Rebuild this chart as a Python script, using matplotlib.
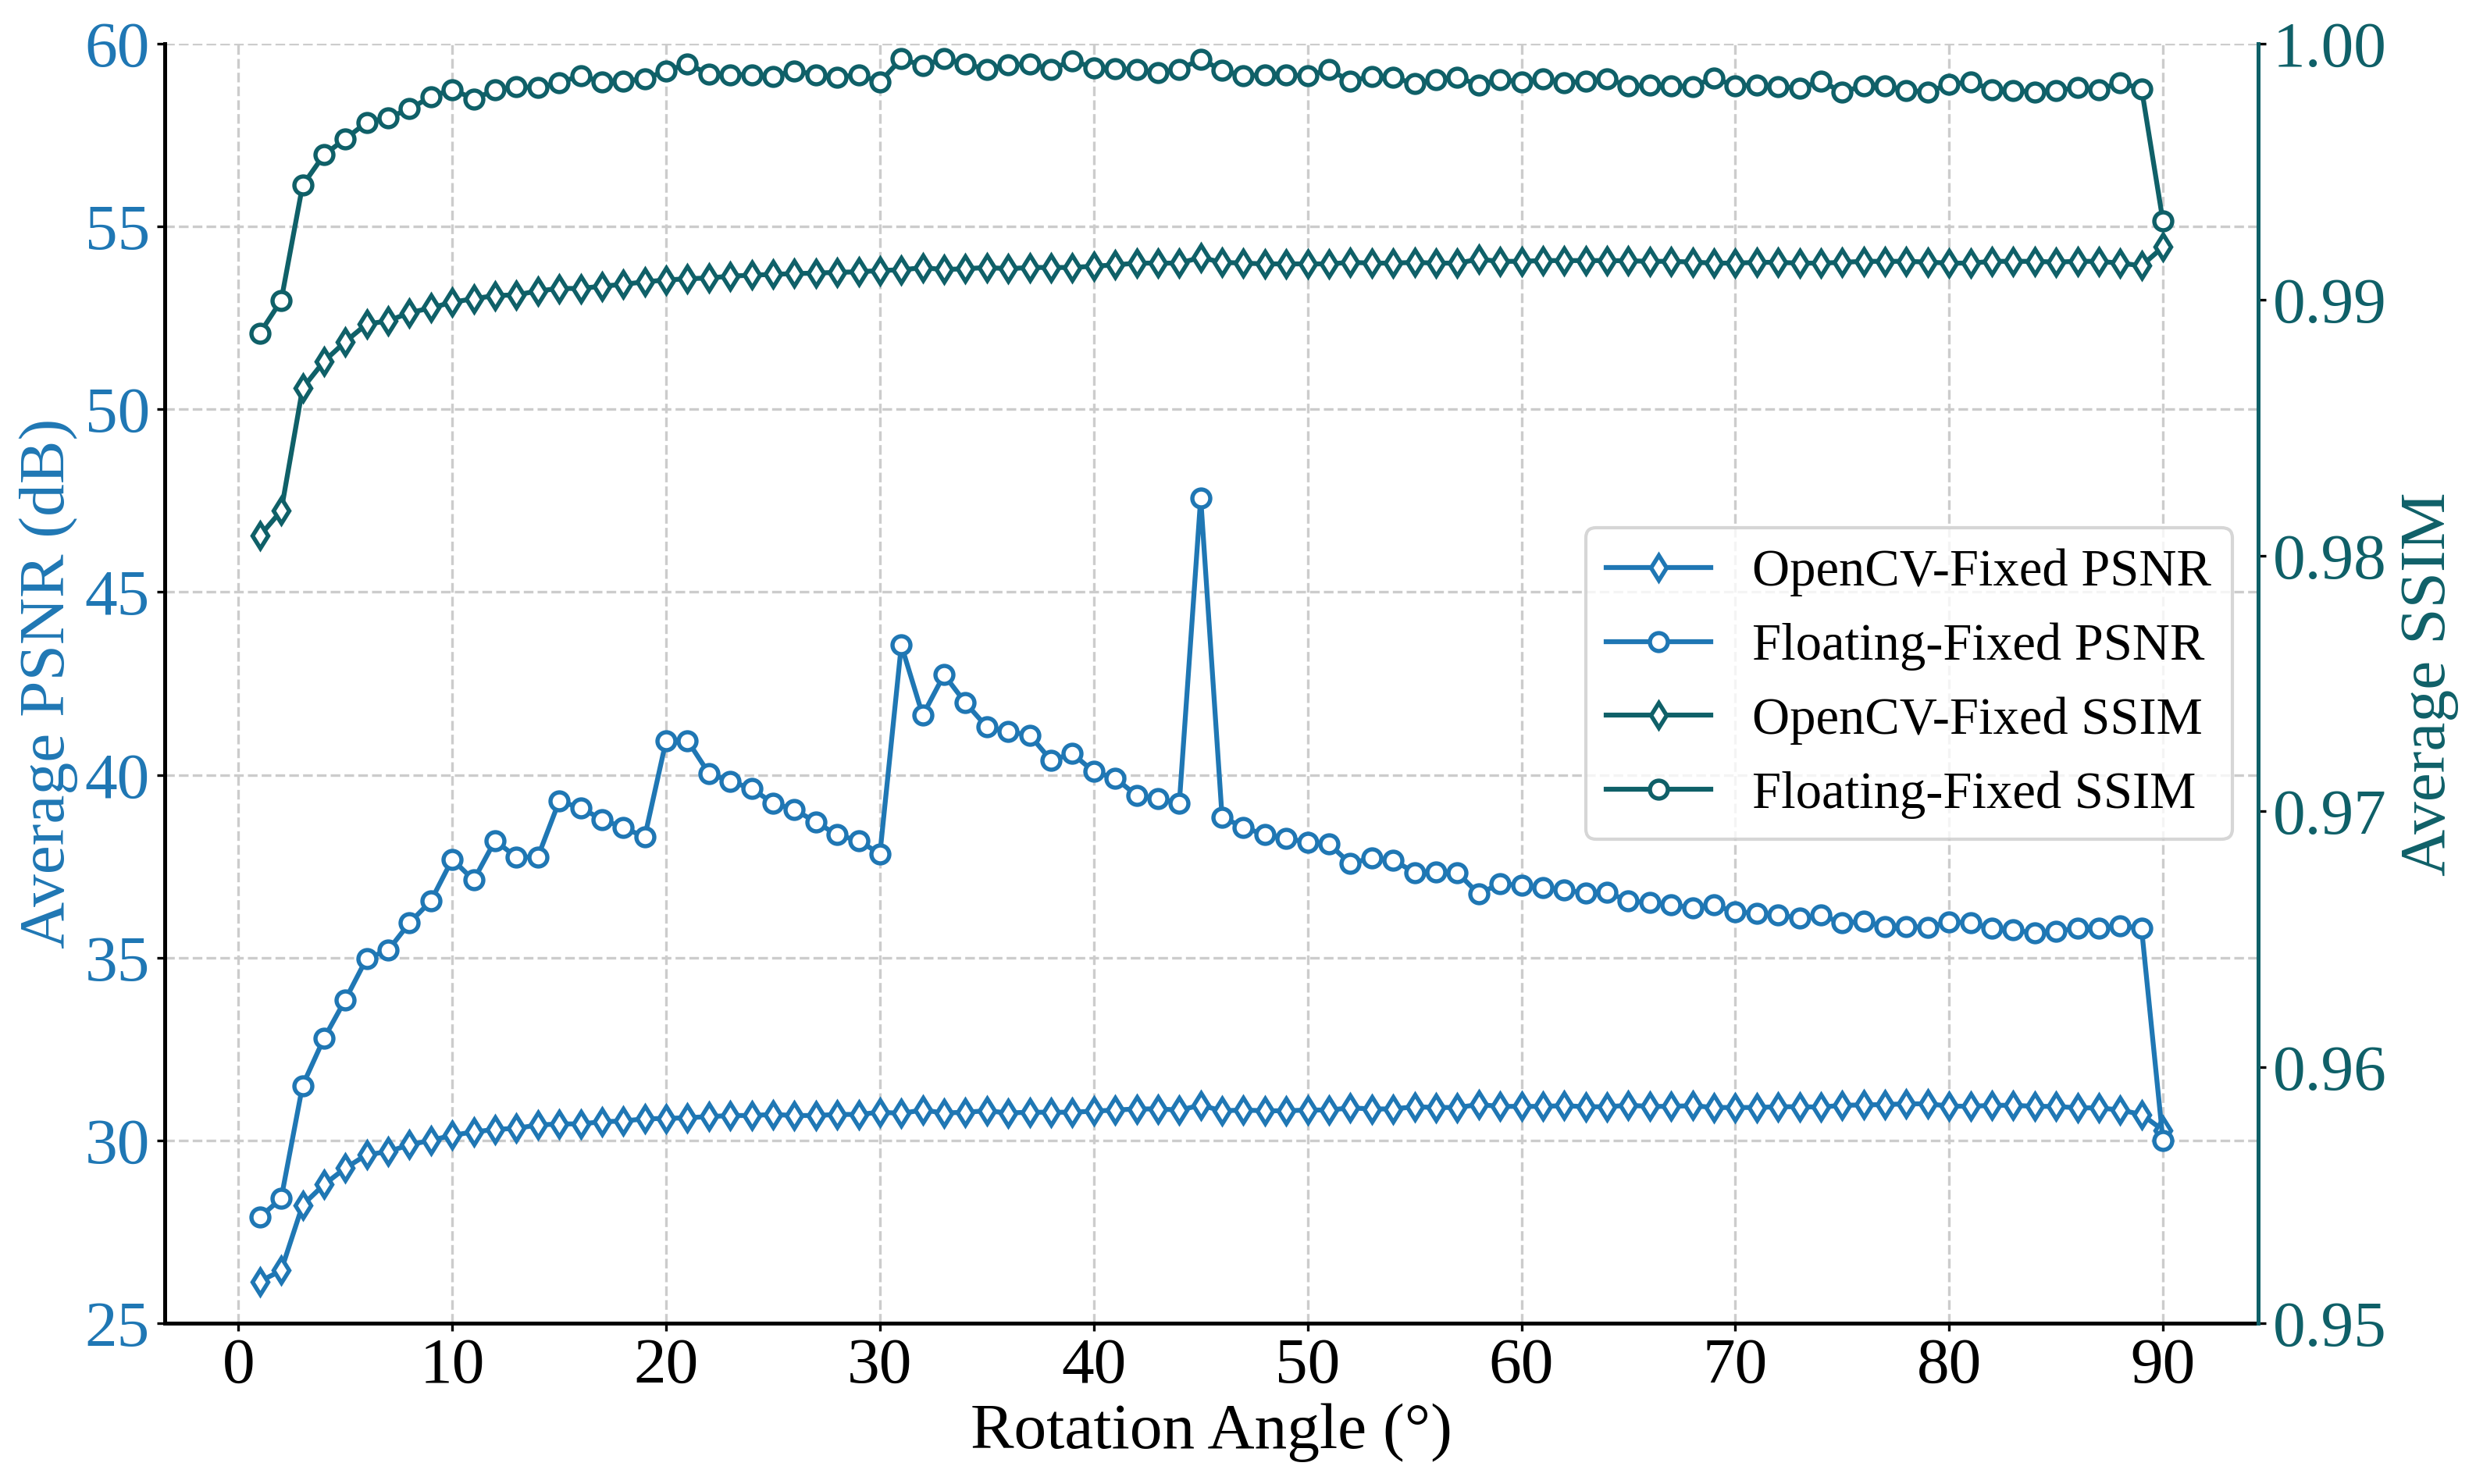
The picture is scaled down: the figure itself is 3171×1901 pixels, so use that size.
import numpy as np
import matplotlib
matplotlib.use('Agg')
import matplotlib.pyplot as plt

plt.rcParams['font.family'] = ['Liberation Serif', 'DejaVu Serif']

angles = np.arange(1, 91)

#PSNR values (dB)
opencv_psnr = [26.14, 26.44, 28.23, 28.79, 29.24, 29.61, 29.69, 29.88, 30.00, 30.14,
               30.23, 30.30, 30.33, 30.42, 30.45, 30.45, 30.51, 30.53, 30.59, 30.60,
               30.62, 30.65, 30.68, 30.68, 30.71, 30.68, 30.68, 30.71, 30.71, 30.77,
               30.74, 30.83, 30.75, 30.77, 30.81, 30.75, 30.77, 30.77, 30.77, 30.80,
               30.83, 30.86, 30.86, 30.83, 30.96, 30.81, 30.83, 30.81, 30.81, 30.83,
               30.83, 30.89, 30.86, 30.86, 30.92, 30.90, 30.90, 30.98, 30.93, 30.93,
               30.93, 30.95, 30.92, 30.92, 30.96, 30.93, 30.93, 30.95, 30.90, 30.90,
               30.90, 30.92, 30.92, 30.91, 30.96, 30.97, 30.98, 31.00, 31.00, 30.94,
               30.93, 30.96, 30.96, 30.93, 30.93, 30.89, 30.89, 30.83, 30.71, 30.28]

floating_psnr = [27.90, 28.41, 31.50, 32.79, 33.85, 34.98, 35.20, 35.95, 36.55, 37.69,
                 37.12, 38.20, 37.75, 37.75, 39.28, 39.10, 38.78, 38.56, 38.30, 40.94,
                 40.94, 40.04, 39.83, 39.62, 39.23, 39.05, 38.71, 38.36, 38.20, 37.84,
                 43.55, 41.63, 42.74, 41.97, 41.31, 41.18, 41.09, 40.40, 40.58, 40.09,
                 39.91, 39.44, 39.35, 39.22, 47.58, 38.84, 38.57, 38.36, 38.27, 38.15,
                 38.11, 37.57, 37.73, 37.67, 37.33, 37.34, 37.33, 36.74, 37.03, 36.97,
                 36.92, 36.85, 36.77, 36.79, 36.55, 36.50, 36.44, 36.37, 36.44, 36.25,
                 36.22, 36.17, 36.08, 36.16, 35.95, 35.99, 35.85, 35.85, 35.83, 35.98,
                 35.95, 35.80, 35.76, 35.67, 35.73, 35.80, 35.80, 35.88, 35.80, 30.00]

#SSIM values
opencv_ssim = [0.98077, 0.98175, 0.98654, 0.98759, 0.98836, 0.98905, 0.98917, 0.98949, 0.98968, 0.98990,
               0.99004, 0.99016, 0.99019, 0.99034, 0.99044, 0.99044, 0.99053, 0.99060, 0.99070, 0.99077,
               0.99082, 0.99085, 0.99092, 0.99096, 0.99099, 0.99102, 0.99104, 0.99107, 0.99109, 0.99114,
               0.99117, 0.99125, 0.99118, 0.99121, 0.99126, 0.99121, 0.99126, 0.99126, 0.99126, 0.99131,
               0.99136, 0.99143, 0.99143, 0.99143, 0.99165, 0.99146, 0.99143, 0.99140, 0.99140, 0.99140,
               0.99140, 0.99146, 0.99143, 0.99143, 0.99146, 0.99143, 0.99143, 0.99158, 0.99150, 0.99150,
               0.99153, 0.99153, 0.99153, 0.99153, 0.99152, 0.99150, 0.99150, 0.99147, 0.99143, 0.99143,
               0.99146, 0.99146, 0.99143, 0.99143, 0.99146, 0.99150, 0.99150, 0.99150, 0.99147, 0.99143,
               0.99143, 0.99150, 0.99150, 0.99150, 0.99147, 0.99150, 0.99150, 0.99143, 0.99133, 0.99206]

floating_ssim = [0.98869, 0.98997, 0.99447, 0.99566, 0.99629, 0.99693, 0.99711, 0.99746, 0.99793, 0.99822,
                 0.99785, 0.99819, 0.99832, 0.99829, 0.99848, 0.99876, 0.99851, 0.99855, 0.99863, 0.99895,
                 0.99921, 0.99883, 0.99880, 0.99880, 0.99873, 0.99895, 0.99880, 0.99869, 0.99880, 0.99851,
                 0.99942, 0.99915, 0.99942, 0.99921, 0.99901, 0.99918, 0.99921, 0.99901, 0.99934, 0.99907,
                 0.99904, 0.99899, 0.99888, 0.99901, 0.99939, 0.99898, 0.99874, 0.99880, 0.99877, 0.99876,
                 0.99899, 0.99855, 0.99873, 0.99869, 0.99844, 0.99861, 0.99870, 0.99839, 0.99861, 0.99851,
                 0.99863, 0.99848, 0.99854, 0.99864, 0.99836, 0.99838, 0.99835, 0.99834, 0.99866, 0.99836,
                 0.99839, 0.99834, 0.99826, 0.99854, 0.99812, 0.99836, 0.99836, 0.99818, 0.99812, 0.99842,
                 0.99851, 0.99822, 0.99818, 0.99812, 0.99818, 0.99829, 0.99822, 0.99848, 0.99825, 0.99307]

c_psnr = '#1f77b4'
c_ssim = '#0f6068'

fig = plt.figure(figsize=(10.57, 6.337), dpi=300)
ax1 = fig.add_axes([0.0665, 0.1084, 0.8455, 0.862])
ax2 = ax1.twinx()

style = dict(linewidth=1.5, markersize=5.5, markerfacecolor='white', markeredgewidth=1.3)
l1, = ax1.plot(angles, opencv_psnr, marker='d', color=c_psnr, label='OpenCV-Fixed PSNR', **style)
l2, = ax1.plot(angles, floating_psnr, marker='o', color=c_psnr, label='Floating-Fixed PSNR', **style)
l3, = ax2.plot(angles, opencv_ssim, marker='d', color=c_ssim, label='OpenCV-Fixed SSIM', **style)
l4, = ax2.plot(angles, floating_ssim, marker='o', color=c_ssim, label='Floating-Fixed SSIM', **style)

ax1.set_ylim(25, 60)
ax2.set_ylim(0.95, 1.00)
ax1.set_xticks(np.arange(0, 91, 10))
ax1.set_yticks(np.arange(25, 61, 5))
ax2.set_yticks(np.arange(0.95, 1.001, 0.01))
ax2.set_yticklabels(['%.2f' % v for v in np.arange(0.95, 1.001, 0.01)])

ax1.grid(True, linestyle='--', color='#cccccc', linewidth=0.8)

ax1.set_xlabel('Rotation Angle (°)', fontsize=20, labelpad=2)
ax1.set_ylabel('Average PSNR (dB)', fontsize=20, color=c_psnr, labelpad=2)
ax2.set_ylabel('Average SSIM', fontsize=20, color=c_ssim, labelpad=4)

ax1.tick_params(axis='x', labelsize=20, length=2.5, pad=2)
ax1.tick_params(axis='y', labelsize=20, labelcolor=c_psnr, length=2.5, pad=2)
ax2.tick_params(axis='y', labelsize=20, labelcolor=c_ssim, length=2.5, pad=2)

for a in (ax1, ax2):
    a.spines['top'].set_visible(False)
ax2.spines['left'].set_visible(False)
ax2.spines['bottom'].set_visible(False)
ax1.spines['right'].set_visible(False)
ax2.spines['right'].set_color(c_ssim)
ax2.spines['right'].set_linewidth(1.2)
ax1.spines['left'].set_linewidth(1.2)
ax1.spines['bottom'].set_linewidth(1.2)

ax2.legend(handles=[l1, l2, l3, l4], loc='center right', fontsize=16)

plt.savefig('out.png', dpi=300)
